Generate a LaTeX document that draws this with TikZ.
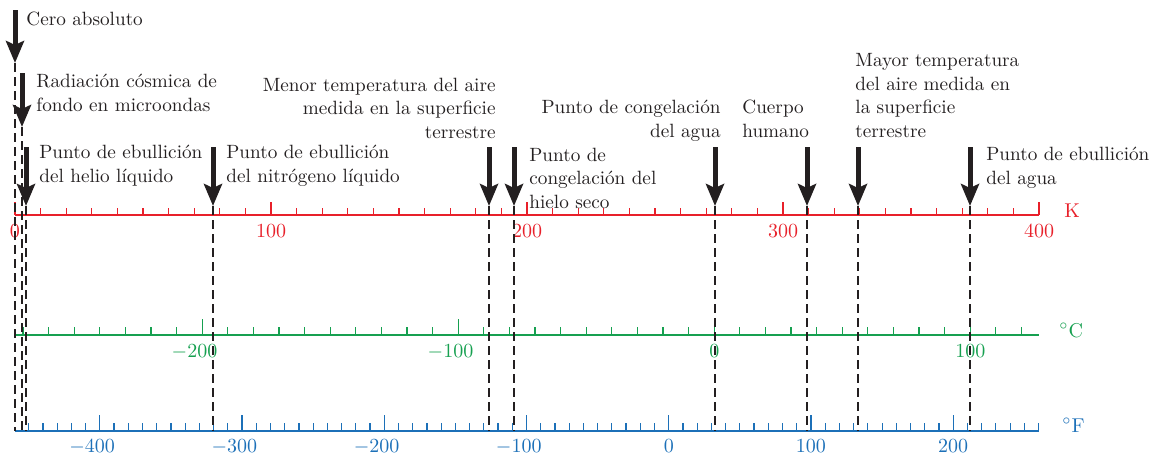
\documentclass[tikz,border=0pt]{standalone}
\usepackage{fontspec}
\usetikzlibrary{arrows.meta}
\definecolor{kelvin}{RGB}{232,32,42}
\definecolor{celsius}{RGB}{22,160,80}
\definecolor{fahr}{RGB}{28,112,184}
\definecolor{ink}{RGB}{35,31,32}

\begin{document}
\begin{tikzpicture}[x=0.5pt, y=-0.5pt,
    every node/.style={font=\fontsize{9.6}{11.75}\selectfont, inner sep=0pt, text=ink},
    >={Stealth[length=11pt, width=9pt, inset=2pt]},
    pointer/.style={->, line width=2.5pt, draw=ink},
    guide/.style={draw=ink, line width=0.7pt, dash pattern=on 4.5pt off 2.5pt},
    axisline/.style={line width=0.6pt},
    scalelabel/.style={font=\fontsize{10}{12}\selectfont, anchor=base}]
  \useasboundingbox (0,0) rectangle (1154,457);

  % Kelvin scale
  \draw[kelvin, axisline] (15,215) -- (1039,215);
  \foreach \k in {0,10,...,400}{
    \pgfmathsetmacro\len{mod(\k,100)==0 ? 13 : 7.5}
    \draw[kelvin, axisline] ({15+2.56*\k},215) -- ++(0,-\len);
  }
  \foreach \k in {0,100,200,300,400}
    \node[scalelabel, text=kelvin] (klab\k) at ({15+2.56*\k},237) {\k};
  \node[anchor=base west, font=\fontsize{10}{12}\selectfont, text=kelvin] (kunit) at (1064,217) {K};

  % Celsius scale
  \draw[celsius, axisline] (15,335) -- (1039,335);
  \foreach \c in {-270,-260,...,120}{
    \pgfmathsetmacro\len{mod(\c,100)==0 ? 16 : 8}
    \draw[celsius, axisline] ({15+2.56*(\c+273.15)},335) -- ++(0,-\len);
  }
  \node[scalelabel, text=celsius] (clab-200) at ({15+2.56*73.15},357) {\llap{$-$}200};
  \node[scalelabel, text=celsius] (clab-100) at ({15+2.56*173.15},357) {\llap{$-$}100};
  \node[scalelabel, text=celsius] (clab0) at ({15+2.56*273.15},357) {0};
  \node[scalelabel, text=celsius] (clab100) at ({15+2.56*373.15},357) {100};
  \node[anchor=base west, font=\fontsize{10}{12}\selectfont, text=celsius] (cunit) at (1059,337) {$^\circ$C};

  % Fahrenheit scale
  \draw[fahr, axisline] (15,431) -- (1039,431);
  \foreach \f in {-450,-440,...,260}{
    \pgfmathsetmacro\len{mod(\f,100)==0 ? 16 : 8}
    \draw[fahr, axisline] ({15+2.56*(\f+459.67)/1.8},431) -- ++(0,-\len);
  }
  \foreach \f in {-400,-300,-200,-100}
    \node[scalelabel, text=fahr] (flab\f) at ({15+2.56*(\f+459.67)/1.8},452) {\llap{$-$}\the\numexpr-\f\relax};
  \foreach \f in {0,100,200}
    \node[scalelabel, text=fahr] (flab\f) at ({15+2.56*(\f+459.67)/1.8},452) {\f};
  \node[anchor=base west, font=\fontsize{10}{12}\selectfont, text=fahr] (funit) at (1062,432) {$^\circ$F};

  % reference points
  \coordinate (cero-top) at (15,10);        \coordinate (cero) at (15,63);
  \coordinate (radiacion-top) at (22,73);   \coordinate (radiacion) at (22,127);
  \coordinate (helio-top) at (26,147);      \coordinate (helio) at (26,206);
  \coordinate (nitrogeno-top) at (213,147); \coordinate (nitrogeno) at (213,206);
  \coordinate (menor-top) at (489,147);     \coordinate (menor) at (489,206);
  \coordinate (hielo-top) at (514,147);     \coordinate (hielo) at (514,206);
  \coordinate (congelacion-top) at (715,147); \coordinate (congelacion) at (715,206);
  \coordinate (cuerpo-top) at (807,147);    \coordinate (cuerpo) at (807,206);
  \coordinate (mayor-top) at (858,147);     \coordinate (mayor) at (858,206);
  \coordinate (ebullicion-top) at (970,147); \coordinate (ebullicion) at (970,206);

  \foreach \p in {cero,radiacion,helio,nitrogeno,menor,hielo,congelacion,cuerpo,mayor,ebullicion}{
    \coordinate (\p-foot) at (\p |- 0,431);
    \draw[guide] (\p) -- (\p-foot);
    \draw[pointer] (\p-top) -- (\p);
  }

  % texts (base = last line)
  \node[anchor=base west] (t-cero) at (26,25) {Cero absoluto};
  \node[anchor=base west, align=left] (t-radiacion) at (36,111) {Radiación cósmica de\\fondo en microondas};
  \node[anchor=base west, align=left] (t-helio) at (39,182) {Punto de ebullición\\del helio líquido};
  \node[anchor=base west, align=left] (t-nitrogeno) at (226,182) {Punto de ebullición\\del nitrógeno líquido};
  \node[anchor=base east, align=right] (t-menor) at (496,138) {Menor temperatura del aire\\medida en la superficie\\terrestre};
  \node[anchor=base west, align=left] (t-hielo) at (529,208) {Punto de\\congelación del\\hielo seco};
  \node[anchor=base east, align=right] (t-congelacion) at (721,137) {Punto de congelación\\del agua};
  \node[anchor=base west, align=left] (t-cuerpo) at (742,137) {Cuerpo\\humano};
  \node[anchor=base west, align=left] (t-mayor) at (855,137) {Mayor temperatura\\del aire medida en\\la superficie\\terrestre};
  \node[anchor=base west, align=left] (t-ebullicion) at (986,184) {Punto de ebullición\\del agua};
\end{tikzpicture}
\end{document}
